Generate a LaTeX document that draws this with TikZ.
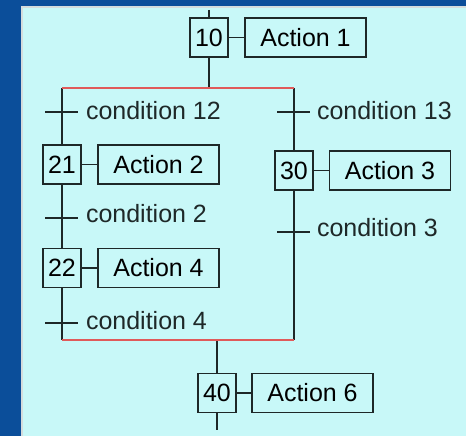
\documentclass[tikz,border=0pt]{standalone}
\usepackage{fontspec}
\setmainfont{Liberation Sans}
\begin{document}
\definecolor{bgblue}{HTML}{0B4E9A}
\definecolor{panel}{HTML}{C8F8F8}
\definecolor{panelrim}{HTML}{D4DCDC}
\definecolor{ink}{HTML}{1E2828}
\definecolor{sync}{HTML}{E05A5A}
\begin{tikzpicture}[x=1pt,y=-1pt,
  every node/.style={inner sep=0pt,outer sep=0pt},
  link/.style={draw=ink,line width=1.8pt},
  stepbox/.style={draw=ink,line width=1.8pt,minimum width=38pt,minimum height=39pt,
    font=\fontsize{25}{25}\selectfont},
  actbox/.style={draw=ink,line width=1.8pt,minimum width=121pt,minimum height=39pt,
    font=\fontsize{25}{25}\selectfont},
  cond/.style={anchor=west,font=\fontsize{25}{25}\selectfont,text=ink},
  syncbar/.style={draw=sync,line width=2pt}]
  % background and panel
  \fill[bgblue] (0,0) rectangle (466,436);
  \fill[panelrim] (21,6) rectangle (466,436);
  \fill[panel] (23,8) rectangle (466,436);
  \useasboundingbox (0,0) rectangle (466,436);

  % steps
  \node[stepbox] (s10) at (209,37.5) {10};
  \node[actbox]  (a1)  at (305.5,37.5) {Action 1};
  \node[stepbox] (s21) at (62,164.5) {21};
  \node[actbox]  (a2)  at (158.5,164.5) {Action 2};
  \node[stepbox] (s22) at (62,268) {22};
  \node[actbox]  (a4)  at (158.5,268) {Action 4};
  \node[stepbox] (s30) at (294,170.5) {30};
  \node[actbox]  (a3)  at (390,170.5) {Action 3};
  \node[stepbox] (s40) at (217,393) {40};
  \node[actbox]  (a6)  at (312.5,393) {Action 6};

  % branch points
  \coordinate (top10) at (209,10);
  \coordinate (divL) at (62,88);
  \coordinate (divR) at (294,88);
  \coordinate (div10) at (209,88);
  \coordinate (joinL) at (62,340);
  \coordinate (joinR) at (294,340);
  \coordinate (join40) at (217,340);
  \coordinate (end40) at (217,430);

  % transitions
  \coordinate (t12) at (62,112);
  \coordinate (t13) at (294,112);
  \coordinate (t2) at (62,218);
  \coordinate (t3) at (294,232);
  \coordinate (t4) at (62,323);

  % step-to-action links
  \foreach \s/\a in {s10/a1,s21/a2,s22/a4,s30/a3,s40/a6}
    \draw[link] (\s.east) -- (\a.west);

  % flow lines
  \draw[link] (top10) -- (s10.north);
  \draw[link] (s10.south) -- (div10);
  \draw[link] (divL) -- (s21.north);
  \draw[link] (s21.south) -- (s22.north);
  \draw[link] (s22.south) -- (joinL);
  \draw[link] (divR) -- (s30.north);
  \draw[link] (s30.south) -- (joinR);
  \draw[link] (join40) -- (s40.north);
  \draw[link] (s40.south) -- (end40);

  % divergence / convergence bars
  \draw[syncbar] (divL) -- (divR);
  \draw[syncbar] (joinL) -- (joinR);

  % transition marks
  \foreach \t in {t12,t13,t2,t3,t4}
    \draw[link] ([xshift=-17pt]\t) -- ([xshift=16pt]\t);

  % transition conditions
  \node[cond] (c12) at (86,111) {condition 12};
  \node[cond] (c13) at (317,111) {condition 13};
  \node[cond] (c2)  at (86,214) {condition 2};
  \node[cond] (c3)  at (317,228) {condition 3};
  \node[cond] (c4)  at (86,321) {condition 4};
\end{tikzpicture}
\end{document}
